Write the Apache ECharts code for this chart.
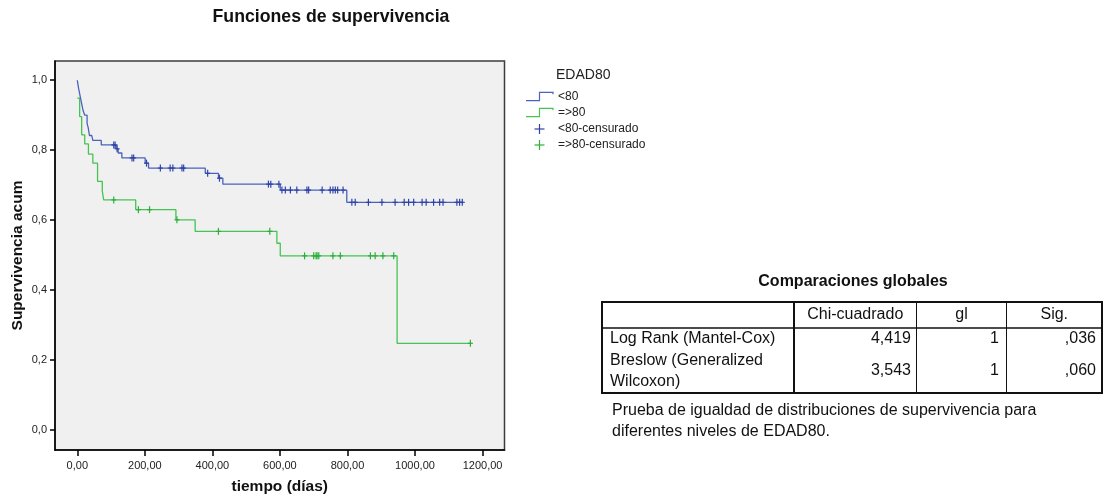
<!DOCTYPE html>
<html>
<head>
<meta charset="utf-8">
<script src="https://cdn.jsdelivr.net/npm/echarts@6/dist/echarts.min.js"></script>
<style>
  html, body { margin: 0; padding: 0; background: #ffffff; }
  #chart { width: 1104px; height: 497px; }
</style>
</head>
<body>
<div id="chart"></div>
<script>
// Kaplan-Meier curve for EDAD80 "<80": day of each drop and cumulative survival after it
const blueStepTimes = [0, 4, 9, 14, 17, 22, 29, 32, 36, 43, 46, 71, 115, 121, 132, 201, 211, 379, 418, 431, 601, 798];
const blueStepSurv  = [1.0, 0.976, 0.952, 0.928, 0.914, 0.900, 0.876, 0.866, 0.842, 0.837, 0.828, 0.815, 0.804, 0.792, 0.778, 0.763, 0.749, 0.734, 0.720, 0.703, 0.686, 0.651];
// censored observations (days) in the "<80" group
const blueCensored = [108, 112, 118, 162, 167, 205, 246, 275, 283, 310, 315, 386, 421, 566, 573, 597,
  606, 616, 631, 650, 680, 685, 725, 749, 757, 764, 771, 787,
  813, 823, 862, 902, 941, 968, 981, 996, 1021, 1033, 1055, 1073, 1083, 1124, 1132, 1140];

// Kaplan-Meier curve for EDAD80 "=>80"
const greenStepTimes = [0, 7, 13, 22, 33, 46, 60, 74, 78, 173, 292, 349, 591, 601, 947];
const greenStepSurv  = [0.949, 0.896, 0.844, 0.818, 0.789, 0.763, 0.711, 0.684, 0.658, 0.630, 0.601, 0.568, 0.534, 0.498, 0.248];
const greenCensored = [108, 181, 214, 295, 418, 570, 673, 700, 707, 710, 715, 757, 779, 868, 882, 905, 937, 1164];

// axis ticks and their labels
const xTicks = [0, 200, 400, 600, 800, 1000, 1200];
const xTickLabels = ['0,00', '200,00', '400,00', '600,00', '800,00', '1000,00', '1200,00'];
const yTicks = [0, 0.2, 0.4, 0.6, 0.8, 1.0];
const yTickLabels = ['0,0', '0,2', '0,4', '0,6', '0,8', '1,0'];

// legend entries
const legendTitle = 'EDAD80';
const legendNames = ['<80', '=>80', '<80-censurado', '=>80-censurado'];

// global comparison table
const tableTitle = 'Comparaciones globales';
const tableHeader = ['Chi-cuadrado', 'gl', 'Sig.'];
const tableRowNames = [['Log Rank (Mantel-Cox)'], ['Breslow (Generalized', 'Wilcoxon)']];
const tableChi = ['4,419', '3,543'];
const tableGl = ['1', '1'];
const tableSig = [',036', ',060'];
const tableNote = ['Prueba de igualdad de distribuciones de supervivencia para', 'diferentes niveles de EDAD80.'];

const BLUE = '#4a62bd';
const BLUE_MARK = '#2f44a8';
const GREEN = '#45c453';
const GREEN_MARK = '#2fae3c';
const FONT = '"Liberation Sans", Arial, sans-serif';

function survAt(times, surv, t) {
  let s = surv[0];
  for (let i = 0; i < times.length; i++) { if (times[i] <= t) s = surv[i]; }
  return s;
}
function stepLine(times, surv, endTime) {
  const d = times.map((t, i) => [t, surv[i]]);
  d.push([endTime, survAt(times, surv, endTime)]);
  return d;
}
function censorPoints(times, surv, cens) {
  return cens.map(t => [t, survAt(times, surv, t)]);
}
function crossRenderer(color) {
  return function (params, api) {
    const p = api.coord([api.value(0), api.value(1)]);
    const st = { stroke: color, lineWidth: 1.2 };
    return {
      type: 'group',
      children: [
        { type: 'line', shape: { x1: p[0], y1: p[1] - 3.5, x2: p[0], y2: p[1] + 3.5 }, style: st },
        { type: 'line', shape: { x1: p[0] - 2.5, y1: p[1], x2: p[0] + 2.5, y2: p[1] }, style: st }
      ]
    };
  };
}

const blueEnd = blueCensored[blueCensored.length - 1];
const greenEnd = greenCensored[greenCensored.length - 1];

// legend and table are drawn as graphic elements
const graphics = [];
const legendX = 526, legendTextX = 558;
graphics.push({ type: 'text', x: 556, y: 75, style: { text: legendTitle, font: '14px ' + FONT, fill: '#222', verticalAlign: 'middle' } });
const legendRowsY = [97, 113, 129, 145];
[[BLUE, 0], [GREEN, 1]].forEach(([c, i]) => {
  const y = legendRowsY[i];
  graphics.push({ type: 'polyline', shape: { points: [[legendX, y + 3.7], [539.5, y + 3.7], [539.5, y - 4.7], [553, y - 4.7], [553, y - 2.7]] },
    style: { stroke: c, lineWidth: 1.2, fill: null } });
});
[[BLUE_MARK, 2], [GREEN_MARK, 3]].forEach(([c, i]) => {
  const y = legendRowsY[i];
  graphics.push({ type: 'line', shape: { x1: 539.5, y1: y - 5, x2: 539.5, y2: y + 5 }, style: { stroke: c, lineWidth: 1.2 } });
  graphics.push({ type: 'line', shape: { x1: 534.5, y1: y, x2: 544.5, y2: y }, style: { stroke: c, lineWidth: 1.2 } });
});
legendNames.forEach((n, i) => {
  graphics.push({ type: 'text', x: legendTextX, y: legendRowsY[i], style: { text: n, font: '12px ' + FONT, fill: '#222', verticalAlign: 'middle' } });
});

// table frame
const tL = 602, tR = 1102, tT = 302, tB = 393, tH = 328;
const colX = [794, 916.5, 1006.5];
graphics.push({ type: 'text', x: 853, y: 282, style: { text: tableTitle, font: 'bold 16px ' + FONT, fill: '#111', align: 'center', verticalAlign: 'middle' } });
graphics.push({ type: 'rect', shape: { x: tL, y: tT, width: tR - tL, height: tB - tT }, style: { fill: null, stroke: '#111', lineWidth: 2 } });
graphics.push({ type: 'line', shape: { x1: tL, y1: tH, x2: tR, y2: tH }, style: { stroke: '#111', lineWidth: 1.5 } });
graphics.push({ type: 'line', shape: { x1: colX[0], y1: tT, x2: colX[0], y2: tB }, style: { stroke: '#111', lineWidth: 2 } });
graphics.push({ type: 'line', shape: { x1: colX[1], y1: tT, x2: colX[1], y2: tB }, style: { stroke: '#111', lineWidth: 1 } });
graphics.push({ type: 'line', shape: { x1: colX[2], y1: tT, x2: colX[2], y2: tB }, style: { stroke: '#111', lineWidth: 1 } });
const headCenters = [(colX[0] + colX[1]) / 2, (colX[1] + colX[2]) / 2, (colX[2] + tR) / 2];
tableHeader.forEach((h, i) => {
  graphics.push({ type: 'text', x: headCenters[i], y: 315, style: { text: h, font: '16px ' + FONT, fill: '#111', align: 'center', verticalAlign: 'middle' } });
});
const rowCenters = [339, 371];
tableRowNames.forEach((lines, r) => {
  const ys = lines.length === 1 ? [rowCenters[r]] : [rowCenters[r] - 10.5, rowCenters[r] + 10.5];
  lines.forEach((ln, k) => {
    graphics.push({ type: 'text', x: 610, y: ys[k], style: { text: ln, font: '16px ' + FONT, fill: '#111', verticalAlign: 'middle' } });
  });
  graphics.push({ type: 'text', x: 911, y: rowCenters[r], style: { text: tableChi[r], font: '16px ' + FONT, fill: '#111', align: 'right', verticalAlign: 'middle' } });
  graphics.push({ type: 'text', x: 999, y: rowCenters[r], style: { text: tableGl[r], font: '16px ' + FONT, fill: '#111', align: 'right', verticalAlign: 'middle' } });
  graphics.push({ type: 'text', x: 1096, y: rowCenters[r], style: { text: tableSig[r], font: '16px ' + FONT, fill: '#111', align: 'right', verticalAlign: 'middle' } });
});
tableNote.forEach((ln, k) => {
  graphics.push({ type: 'text', x: 612, y: 410.5 + k * 21.5, style: { text: ln, font: '16px ' + FONT, fill: '#111', verticalAlign: 'middle' } });
});
graphics.push({ type: 'text', x: 331, y: 17, style: { text: 'Funciones de supervivencia', font: 'bold 17.7px ' + FONT, fill: '#111', align: 'center', verticalAlign: 'middle' } });

const chart = echarts.init(document.getElementById('chart'), null, { renderer: 'canvas' });
chart.setOption({
  animation: false,
  backgroundColor: '#ffffff',
  grid: {
    left: 55, top: 61, width: 449.5, height: 389,
    outerBoundsMode: 'none', containLabel: false,
    show: true, backgroundColor: '#f0f0f0', borderColor: '#3c3c3c', borderWidth: 1.5
  },
  xAxis: {
    type: 'value', min: -66, max: 1265,
    name: 'tiempo (días)', nameLocation: 'middle', nameGap: 29,
    nameTextStyle: { fontFamily: FONT, fontWeight: 'bold', fontSize: 15.5, color: '#111' },
    axisLine: { show: true, onZero: false, lineStyle: { color: '#000', width: 1.5 } },
    axisTick: { show: true, length: 6, customValues: xTicks, lineStyle: { color: '#000', width: 1.5 } },
    axisLabel: {
      customValues: xTicks, margin: 10, fontFamily: FONT, fontSize: 11, color: '#222',
      formatter: v => xTickLabels[xTicks.indexOf(v)] || ''
    },
    splitLine: { show: false }
  },
  yAxis: {
    type: 'value', min: -0.057, max: 1.055,
    name: 'Supervivencia acum', nameLocation: 'middle', nameGap: 29,
    nameTextStyle: { fontFamily: FONT, fontWeight: 'bold', fontSize: 15.5, color: '#111' },
    axisLine: { show: true, onZero: false, lineStyle: { color: '#000', width: 1.5 } },
    axisTick: { show: true, length: 5, customValues: yTicks, lineStyle: { color: '#000', width: 1.5 } },
    axisLabel: {
      customValues: yTicks, margin: 8, fontFamily: FONT, fontSize: 11, color: '#222',
      formatter: v => { const i = yTicks.findIndex(t => Math.abs(t - v) < 1e-6); return i >= 0 ? yTickLabels[i] : ''; }
    },
    splitLine: { show: false }
  },
  series: [
    {
      name: legendNames[0], type: 'line', step: 'end', symbol: 'none',
      data: stepLine(blueStepTimes, blueStepSurv, blueEnd),
      lineStyle: { color: BLUE, width: 1.3 }, z: 3
    },
    {
      name: legendNames[1], type: 'line', step: 'end', symbol: 'none',
      data: stepLine(greenStepTimes, greenStepSurv, greenEnd),
      lineStyle: { color: GREEN, width: 1.3 }, z: 2
    },
    {
      name: legendNames[2], type: 'custom', renderItem: crossRenderer(BLUE_MARK),
      data: censorPoints(blueStepTimes, blueStepSurv, blueCensored), z: 4
    },
    {
      name: legendNames[3], type: 'custom', renderItem: crossRenderer(GREEN_MARK),
      data: censorPoints(greenStepTimes, greenStepSurv, greenCensored), z: 4
    }
  ],
  graphic: graphics
});
</script>
</body>
</html>
